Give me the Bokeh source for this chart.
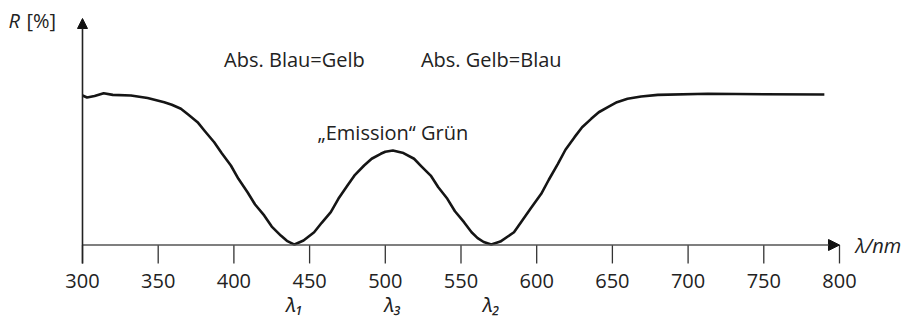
from bokeh.plotting import figure
from bokeh.models import Range1d, Arrow, NormalHead
from bokeh.core.properties import value
from bokeh.embed import file_html
from bokeh.resources import INLINE

# ---- data ----
wavelength = [300, 303, 308, 314, 320, 332, 343, 354, 359, 365, 370, 376, 381, 387, 392,
              398, 403, 409, 414, 420, 425, 431, 435, 440, 446, 453, 458, 464, 469, 475,
              480, 486, 491, 497, 500, 505, 512, 519, 524, 530, 535, 541, 546, 552, 557,
              561, 565, 570, 576, 585, 590, 596, 603, 608, 614, 619, 625, 630, 636, 641,
              647, 653, 660, 669, 680, 713, 750, 790]
reflect = [99.7, 98.3, 99.3, 101.2, 100.1, 99.7, 98.0, 95.2, 93.5, 90.8, 86.8, 81.9, 75.7, 68.5, 61.2,
           53.0, 44.1, 35.2, 27.0, 19.7, 12.3, 6.3, 2.8, 0.3, 3.0, 8.5, 14.8, 21.9, 30.8, 39.7,
           46.8, 53.0, 57.5, 60.8, 62.2, 63.0, 61.3, 57.5, 52.3, 46.3, 38.5, 30.8, 22.5, 15.2, 8.5,
           4.6, 2.0, 0.3, 2.3, 8.5, 15.7, 24.3, 34.1, 43.5, 54.1, 63.5, 71.9, 78.5, 84.1, 88.5,
           91.9, 95.2, 97.5, 99.0, 100.1, 100.8, 100.5, 100.3]

tick_values = [300, 350, 400, 450, 500, 550, 600, 650, 700, 750, 800]
tick_labels = [str(t) for t in tick_values]
lambda_pos = [440, 505, 570]
lambda_names = ["λ₁", "λ₃", "λ₂"]

note_x = [440, 570]
note_text = ["Abs. Blau=Gelb", "Abs. Gelb=Blau"]
emis_x = [505]
emis_text = ["„Emission“ Grün"]

y_label = "R"
y_unit = "[%]"
x_label = "λ/nm"

# ---- layout / style constants ----
Y_AXIS_TOP = 151
TICK_LEN = 12.3
TICK_LABEL_Y = -24.0
LAMBDA_LABEL_Y = -39.7
NOTE_Y = 123.6
EMIS_Y = 75.0
FONT = "Open Sans"
FS = "20px"
TXT = "#222222"

p = figure(width=905, height=317,
           x_range=Range1d(245.84, 843.6), y_range=Range1d(-48.33, 163),
           output_backend="svg", toolbar_location=None,
           x_axis_location=None, y_axis_location=None,
           min_border_left=0, min_border_right=0, min_border_top=0, min_border_bottom=0)
p.grid.visible = False
p.outline_line_color = None

# ticks and tick labels (x axis)
n = len(tick_values)
p.segment(x0=tick_values, y0=[0] * n, x1=tick_values, y1=[-TICK_LEN] * n,
          line_width=1.3, line_color="#333333")
p.text(tick_values, [TICK_LABEL_Y] * n, text=tick_labels, text_align="center",
       text_baseline="alphabetic", text_font=value(FONT), text_font_size=FS, text_color=TXT)
p.text(lambda_pos, [LAMBDA_LABEL_Y] * len(lambda_pos), text=lambda_names, text_align="center",
       text_baseline="alphabetic", text_font=value("Noto Sans"), text_font_style="italic",
       text_font_size=FS, text_color=TXT)

# curve
p.line(wavelength, reflect, line_width=2.6, line_color="#151515", line_join="round")

# axes arrows
p.add_layout(Arrow(end=NormalHead(size=11, fill_color="#111111", line_color="#111111"),
                   x_start=tick_values[0], y_start=0, x_end=tick_values[-1], y_end=0,
                   line_width=1.5, line_color="#555555"))
p.add_layout(Arrow(end=NormalHead(size=10, fill_color="#111111", line_color="#111111"),
                   x_start=tick_values[0], y_start=-TICK_LEN, x_end=tick_values[0], y_end=Y_AXIS_TOP,
                   line_width=1.6, line_color="#222222"))

# annotations
p.text(note_x, [NOTE_Y] * len(note_x), text=note_text, text_align="center",
       text_baseline="alphabetic", text_font=value(FONT), text_font_size=FS, text_color=TXT)
p.text(emis_x, [EMIS_Y], text=emis_text, text_align="center", text_baseline="alphabetic",
       text_font=value(FONT), text_font_size=FS, text_color=TXT)

p.text([251.1], [149.7], text=[y_label], text_align="left", text_baseline="middle",
       text_font=value(FONT), text_font_style="italic", text_font_size=FS, text_color=TXT)
p.text([263.0], [149.7], text=[y_unit], text_align="left", text_baseline="middle",
       text_font=value(FONT), text_font_size=FS, text_color=TXT)
p.text([810.6], [-0.3], text=[x_label], text_align="left", text_baseline="middle",
       text_font=value(FONT), text_font_style="italic", text_font_size=FS, text_color=TXT)

open("out.html", "w").write(file_html(p, INLINE))
